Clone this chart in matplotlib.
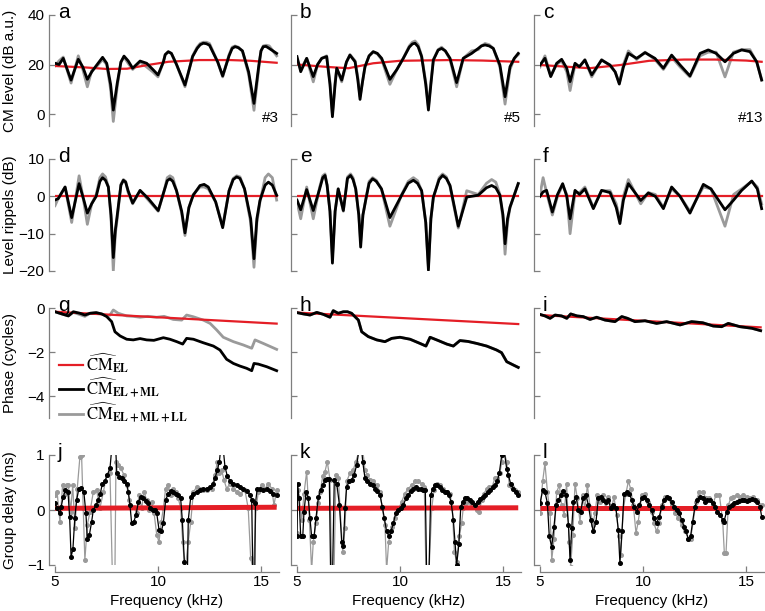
import numpy as np
import matplotlib.pyplot as plt

plt.rcParams['font.family'] = ['Liberation Sans', 'DejaVu Sans']
plt.rcParams['mathtext.fontset'] = 'stix'

# ---------------- data ----------------
# row 1: CM level (dB a.u.)
freq_a = [5.0, 5.2, 5.4, 5.78, 6.13, 6.35, 6.57, 6.78, 7.0, 7.31, 7.51, 7.7, 7.83, 8.02, 8.2, 8.35, 8.55, 8.77, 9.13,
          9.45, 9.75, 10.0, 10.26, 10.35, 10.5, 10.65, 10.9, 11.31, 11.68, 11.9, 12.05, 12.2, 12.35, 12.5, 12.9,
          13.14, 13.45, 13.6, 13.74, 13.9, 14.1, 14.4, 14.66, 14.9, 15.0, 15.11, 15.25, 15.4, 15.76]
lvl_black_a = [20.5, 20.0, 22.5, 13.7, 22.1, 19.0, 14.0, 17.0, 19.5, 22.9, 20.5, 12.0, 1.6, 12.4, 21.0, 23.4, 21.5,
               18.5, 21.4, 20.5, 18.0, 15.8, 21.0, 24.0, 25.2, 24.5, 20.0, 11.7, 23.2, 26.5, 28.0, 28.6, 28.4, 27.8,
               21.0, 15.4, 23.5, 26.5, 27.2, 26.8, 25.5, 17.0, 4.3, 20.0, 25.5, 27.2, 27.3, 26.5, 24.5]
lvl_gray_a = [19.5, 21.5, 23.0, 12.5, 23.5, 18.0, 11.0, 17.5, 19.0, 22.0, 20.0, 10.0, -3.0, 11.0, 21.0, 23.0, 20.5,
              18.0, 21.0, 19.0, 17.0, 15.0, 21.0, 24.0, 25.0, 24.5, 20.0, 11.0, 23.5, 27.0, 28.5, 29.0, 29.0, 28.5,
              21.0, 15.0, 24.0, 27.0, 27.5, 27.0, 25.5, 16.0, 1.5, 19.0, 25.5, 27.5, 27.8, 27.5, 23.5]
red_freq_a = [5.0, 6.5, 7.5, 8.5, 9.5, 10.5, 12.0, 13.5, 14.5, 15.76]
red_a = [19.4, 18.8, 18.2, 18.3, 19.8, 21.1, 21.8, 21.8, 21.5, 20.7]

freq_b = [5.0, 5.18, 5.47, 5.79, 6.0, 6.2, 6.44, 6.6, 6.72, 6.85, 6.93, 7.17, 7.4, 7.57, 7.82, 7.95, 8.06, 8.18,
          8.3, 8.5, 8.7, 8.9, 9.11, 9.51, 9.85, 10.16, 10.45, 10.6, 10.73, 10.88, 11.05, 11.25, 11.38, 11.5, 11.62,
          11.85, 12.02, 12.2, 12.43, 12.75, 13.07, 13.48, 13.8, 13.95, 14.13, 14.33, 14.53, 14.85, 15.1, 15.34,
          15.55, 15.74]
lvl_black_b = [23.2, 17.1, 22.5, 15.1, 20.0, 22.5, 23.2, 12.0, -1.1, 12.0, 18.5, 13.7, 21.0, 23.8, 21.1, 14.0, 5.9,
               13.0, 19.1, 23.5, 25.2, 24.5, 22.5, 14.0, 18.0, 22.5, 27.0, 28.3, 28.6, 27.2, 23.2, 12.0, 1.6, 12.0,
               21.8, 25.8, 26.5, 25.5, 22.5, 12.7, 22.5, 24.5, 26.5, 27.5, 27.9, 27.5, 26.5, 19.8, 7.0, 19.1, 22.5,
               24.5]
lvl_gray_b = [22.0, 18.0, 22.5, 13.0, 20.0, 22.5, 23.5, 13.0, 0.0, 13.0, 18.5, 13.0, 21.0, 24.0, 21.5, 15.0, 7.0,
              13.0, 19.0, 23.5, 25.0, 24.3, 22.0, 12.0, 18.0, 22.5, 27.5, 29.0, 29.5, 28.0, 23.5, 13.0, 3.0, 13.0,
              22.0, 26.0, 27.0, 25.5, 22.0, 11.0, 22.5, 25.5, 26.0, 27.5, 28.5, 28.0, 26.5, 19.0, 4.0, 18.0, 22.5,
              24.0]
red_freq_b = [5.0, 6.5, 7.5, 8.7, 10.0, 12.4, 14.0, 15.74]
red_b = [20.0, 19.0, 18.5, 20.5, 21.5, 21.8, 21.6, 21.1]

freq_c = [5.0, 5.24, 5.52, 5.81, 6.05, 6.3, 6.46, 6.7, 6.91, 7.18, 7.51, 7.99, 8.4, 8.65, 8.85, 9.05, 9.29, 9.69,
          10.1, 10.58, 10.99, 11.39, 11.8, 12.28, 12.77, 13.17, 13.55, 13.98, 14.39, 14.79, 15.19, 15.52, 15.76]
lvl_black_c = [19.8, 22.5, 15.1, 20.5, 22.1, 18.5, 13.1, 20.5, 19.1, 21.8, 15.8, 21.8, 19.8, 17.0, 12.1, 19.0, 24.5,
               22.5, 24.8, 22.5, 18.5, 23.8, 19.8, 15.4, 24.5, 25.9, 24.5, 21.1, 24.5, 25.9, 25.2, 21.1, 13.7]
lvl_gray_c = [19.0, 23.5, 15.5, 20.0, 21.5, 17.0, 9.5, 20.0, 19.0, 22.0, 15.0, 22.0, 19.5, 17.0, 12.5, 20.0, 25.5,
              22.0, 25.0, 22.0, 18.0, 23.0, 19.0, 15.0, 23.5, 25.0, 25.0, 15.0, 25.0, 26.0, 26.0, 21.0, 14.0]
red_freq_c = [5.0, 6.5, 7.4, 8.9, 10.3, 12.0, 13.5, 15.0, 15.76]
red_c = [19.8, 19.0, 18.5, 19.8, 21.5, 22.0, 22.0, 21.6, 21.1]

# row 2: level ripples (dB)
freq_d = [5.0, 5.16, 5.49, 5.81, 6.17, 6.4, 6.57, 6.78, 7.0, 7.18, 7.31, 7.45, 7.59, 7.72, 7.83, 7.93, 8.02, 8.2,
          8.32, 8.43, 8.55, 8.77, 9.13, 9.53, 10.01, 10.3, 10.45, 10.58, 10.72, 10.9, 11.15, 11.31, 11.5, 11.71,
          12.04, 12.24, 12.44, 12.8, 13.14, 13.45, 13.65, 13.82, 13.98, 14.2, 14.5, 14.66, 14.8, 14.95, 15.2,
          15.36, 15.55, 15.76]
rip_black_d = [-1.0, -0.6, 2.5, -5.7, 3.4, -1.0, -4.5, -2.0, 0.0, 4.0, 5.0, 4.3, 2.5, -5.0, -16.4, -9.0, -5.1, 3.0,
               4.3, 3.8, 1.5, -1.8, 1.6, -0.6, -3.8, 1.5, 4.2, 4.7, 4.0, 1.5, -4.0, -9.8, -3.0, 0.3, 2.9, 3.2, 2.5,
               -1.5, -8.4, 1.5, 4.5, 5.2, 4.8, 2.0, -6.0, -16.7, -6.0, -1.1, 3.0, 3.8, 3.0, 0.3]
rip_gray_d = [-2.5, -0.5, 2.5, -7.0, 5.5, -1.5, -7.5, -2.0, 0.5, 5.0, 6.0, 5.2, 2.5, -6.0, -20.0, -10.0, -6.0, 3.2,
              4.5, 4.0, 1.0, -2.0, 1.5, -1.0, -4.0, 1.5, 5.0, 5.5, 5.0, 1.5, -4.5, -10.5, -3.0, 0.5, 2.5, 2.5, 2.0,
              -1.5, -8.0, 1.5, 4.8, 5.5, 5.2, 2.0, -7.0, -19.0, -7.0, -1.5, 5.0, 6.0, 5.0, -1.0]

freq_e = [5.0, 5.18, 5.47, 5.79, 6.1, 6.25, 6.36, 6.46, 6.6, 6.72, 6.85, 7.0, 7.25, 7.45, 7.6, 7.72, 7.85, 8.0,
          8.09, 8.2, 8.35, 8.5, 8.67, 8.85, 9.1, 9.51, 10.08, 10.4, 10.65, 10.85, 11.05, 11.25, 11.38, 11.5, 11.62,
          11.9, 12.07, 12.25, 12.43, 12.83, 13.24, 13.8, 14.2, 14.45, 14.65, 14.85, 15.0, 15.1, 15.22, 15.34, 15.74]
rip_black_e = [-1.0, -3.6, 1.8, -3.8, 2.0, 5.0, 5.6, 3.0, -4.0, -17.9, -4.0, 2.0, -3.8, 4.8, 5.6, 4.5, 2.0, -5.0,
               -13.6, -5.0, -0.6, 3.5, 4.7, 4.0, 2.0, -5.7, 0.3, 3.5, 4.3, 3.5, 1.5, -7.0, -19.8, -6.0, -0.2, 4.5,
               5.6, 4.8, 2.9, -8.0, -0.2, 0.3, 2.3, 2.9, 2.3, 0.3, -5.0, -12.7, -6.0, -2.9, 3.4]
rip_gray_e = [-1.5, -6.0, 2.5, -6.0, 2.5, 5.5, 6.0, 3.0, -4.0, -16.0, -4.0, 2.0, -4.0, 5.2, 6.0, 5.0, 2.0, -5.0,
              -12.0, -5.0, -0.5, 4.0, 5.0, 4.3, 2.0, -8.0, 0.5, 4.0, 5.0, 4.2, 1.5, -7.0, -19.0, -6.0, -0.5, 5.0,
              6.0, 5.2, 2.5, -8.5, 1.5, 0.5, 3.5, 4.5, 3.8, 0.5, -6.0, -15.5, -7.0, -3.0, 3.5]

freq_f = [5.0, 5.15, 5.32, 5.6, 5.85, 6.1, 6.3, 6.46, 6.7, 6.92, 7.18, 7.59, 7.99, 8.4, 8.7, 8.88, 9.05, 9.29, 9.89,
          10.26, 10.6, 10.99, 11.39, 11.8, 12.28, 12.93, 13.3, 13.98, 14.4, 14.79, 15.28, 15.55, 15.76]
rip_black_f = [0.0, 1.2, 1.6, -4.2, 0.5, 3.4, 0.0, -6.0, 1.6, 0.5, 2.0, -3.3, 1.6, 1.0, -3.0, -7.3, -1.0, 3.4, -1.1,
               0.9, 0.0, -3.3, 2.5, 0.0, -4.5, 3.2, 2.0, -3.6, -1.0, 1.6, 4.1, 2.0, -3.3]
rip_gray_f = [0.5, 5.0, 1.0, -5.0, 0.0, 3.0, 0.5, -10.0, 1.0, 1.0, 2.5, -3.0, 1.5, 1.5, -2.0, -6.5, 0.0, 4.5, -2.0,
              1.0, 0.5, -3.0, 2.0, 0.0, -4.0, 2.5, 2.0, -8.0, 0.5, 2.0, 4.0, 2.5, -2.0]

# row 3: phase (cycles)
freq_g = [5.0, 5.33, 5.65, 5.89, 6.21, 6.45, 6.7, 7.0, 7.27, 7.51, 7.75, 7.91, 8.16, 8.48, 8.8, 9.13, 9.45, 9.8,
          10.26, 10.58, 10.91, 11.2, 11.39, 11.72, 12.2, 12.69, 13.01, 13.33, 13.66, 13.98, 14.3, 14.55, 14.66,
          14.87, 15.28, 15.76]
ph_black_g = [-0.17, -0.27, -0.36, -0.17, -0.24, -0.32, -0.24, -0.21, -0.27, -0.39, -0.62, -1.08, -1.27, -1.42,
              -1.45, -1.39, -1.45, -1.47, -1.35, -1.42, -1.53, -1.64, -1.38, -1.42, -1.58, -1.73, -1.91, -2.33,
              -2.52, -2.64, -2.74, -2.85, -2.52, -2.55, -2.67, -2.85]
freq_g_gray = [5.0, 5.33, 5.65, 5.89, 6.21, 6.45, 6.7, 7.0, 7.27, 7.51, 7.67, 7.83, 8.07, 8.48, 8.8, 9.13, 9.5,
               9.94, 10.3, 10.74, 11.15, 11.39, 11.72, 12.2, 12.53, 12.85, 13.17, 13.66, 14.14, 14.55, 14.71, 15.11,
               15.76]
ph_gray_g = [-0.17, -0.27, -0.36, -0.2, -0.3, -0.38, -0.24, -0.22, -0.27, -0.36, -0.32, -0.09, -0.24, -0.36, -0.38,
             -0.42, -0.38, -0.42, -0.38, -0.52, -0.55, -0.32, -0.4, -0.55, -0.7, -1.0, -1.33, -1.53, -1.68, -1.83,
             -1.45, -1.61, -1.88]
red_freq_g = [5.0, 15.76]
red_g = [-0.17, -0.71]

freq_h = [5.0, 5.31, 5.63, 5.96, 6.28, 6.6, 6.76, 7.0, 7.25, 7.45, 7.65, 7.98, 8.14, 8.46, 8.87, 9.27, 9.6, 10.0,
          10.49, 10.97, 11.26, 11.46, 11.86, 12.27, 12.59, 12.91, 13.3, 13.72, 14.21, 14.69, 14.93, 15.18, 15.5,
          15.74]
ph_black_h = [-0.21, -0.27, -0.32, -0.2, -0.29, -0.42, -0.12, -0.24, -0.17, -0.17, -0.24, -0.55, -1.08, -1.3, -1.45,
              -1.53, -1.38, -1.33, -1.42, -1.61, -1.73, -1.33, -1.48, -1.64, -1.73, -1.48, -1.52, -1.61, -1.73, -1.91,
              -2.03, -2.44, -2.59, -2.7]
ph_gray_h = [-0.21, -0.27, -0.32, -0.2, -0.29, -0.42, -0.12, -0.24, -0.17, -0.17, -0.24, -0.55, -1.08, -1.3, -1.45,
             -1.53, -1.38, -1.33, -1.42, -1.61, -1.73, -1.33, -1.48, -1.64, -1.73, -1.48, -1.52, -1.61, -1.73, -1.91,
             -2.03, -2.44, -2.59, -2.7]
red_freq_h = [5.0, 15.74]
red_h = [-0.21, -0.73]

freq_i = [5.0, 5.24, 5.49, 5.73, 6.05, 6.3, 6.49, 6.8, 7.1, 7.43, 7.75, 8.16, 8.64, 8.97, 9.25, 9.61, 10.1, 10.66,
          11.15, 11.8, 12.36, 12.9, 13.41, 13.82, 14.14, 14.71, 15.28, 15.71]
ph_black_i = [-0.29, -0.36, -0.47, -0.32, -0.36, -0.47, -0.27, -0.36, -0.39, -0.52, -0.42, -0.55, -0.62, -0.39,
              -0.47, -0.62, -0.58, -0.7, -0.62, -0.77, -0.62, -0.67, -0.82, -0.85, -0.7, -0.85, -0.92, -1.03]
ph_gray_i = [-0.29, -0.36, -0.47, -0.32, -0.36, -0.47, -0.27, -0.36, -0.39, -0.52, -0.42, -0.55, -0.62, -0.39,
             -0.47, -0.62, -0.58, -0.7, -0.62, -0.77, -0.62, -0.67, -0.82, -0.85, -0.7, -0.85, -0.92, -1.03]
red_freq_i = [5.0, 15.71]
red_i = [-0.32, -0.88]

# row 4: group delay (ms)
freq_j = [5.0, 5.1, 5.22, 5.3, 5.4, 5.5, 5.63, 5.71, 5.78, 5.87, 5.96, 6.05, 6.16, 6.28, 6.4, 6.5, 6.57, 6.67, 6.78,
          6.86, 6.99, 7.1, 7.2, 7.3, 7.43, 7.54, 7.67, 7.75, 7.95, 8.0, 8.12, 8.24, 8.35, 8.48, 8.56, 8.64, 8.72,
          8.83, 8.93, 9.05, 9.16, 9.29, 9.42, 9.53, 9.61, 9.74, 9.85, 9.94, 10.05, 10.16, 10.26, 10.37, 10.5, 10.61,
          10.74, 10.86, 10.99, 11.1, 11.18, 11.28, 11.33, 11.43, 11.47, 11.59, 11.72, 11.88, 12.04, 12.2, 12.36,
          12.52, 12.69, 12.77, 12.88, 12.98, 13.04, 13.17, 13.25, 13.37, 13.5, 13.66, 13.82, 13.98, 14.14, 14.3,
          14.47, 14.55, 14.6, 14.7, 14.73, 14.82, 14.95, 15.11, 15.28, 15.44, 15.57, 15.76]
gd_black_j = [0.12, 0.03, -0.06, 0.06, 0.24, 0.36, 0.33, -0.12, -0.85, -0.71, -0.15, 0.18, 0.39, 0.4, 0.33, -0.06,
              -0.52, -0.45, -0.21, 0.0, 0.09, 0.18, 0.3, 0.48, 0.53, 0.64, 0.76, 1.1, 1.1, 0.67, 0.6, 0.59, 0.53,
              0.48, 0.33, 0.09, -0.24, -0.21, -0.09, 0.15, 0.24, 0.21, 0.16, 0.12, 0.03, 0.0, 0.0, -0.06, -0.36,
              -0.39, -0.24, 0.18, 0.3, 0.35, 0.33, 0.3, 0.28, 0.21, -0.18, -0.94, -1.1, -1.1, -0.18, 0.24, 0.3,
              0.33, 0.36, 0.38, 0.39, 0.42, 0.48, 0.58, 0.73, 0.88, 1.1, 1.1, 0.79, 0.61, 0.53, 0.48, 0.45, 0.42,
              0.39, 0.35, 0.27, 0.18, -1.1, -1.1, 0.12, 0.39, 0.39, 0.36, 0.39, 0.35, 0.3, 0.27]
freq_j_gray = [5.0, 5.1, 5.24, 5.37, 5.47, 5.57, 5.65, 5.76, 5.86, 5.97, 6.08, 6.21, 6.29, 6.37, 6.45, 6.57, 6.7,
               6.86, 7.02, 7.18, 7.35, 7.51, 7.67, 7.78, 7.91, 7.96, 8.07, 8.19, 8.35, 8.48, 8.61, 8.72, 8.83, 8.96,
               9.08, 9.21, 9.32, 9.45, 9.58, 9.69, 9.81, 9.94, 10.05, 10.16, 10.26, 10.37, 10.5, 10.61, 10.74, 10.86,
               10.99, 11.1, 11.2, 11.31, 11.47, 11.59, 11.72, 11.88, 12.04, 12.2, 12.36, 12.6, 12.77, 12.88, 12.98,
               13.09, 13.2, 13.33, 13.5, 13.66, 13.85, 14.0, 14.22, 14.38, 14.5, 14.63, 14.76, 14.87, 15.03, 15.2,
               15.36, 15.52, 15.63, 15.76]
gd_gray_j = [0.27, 0.33, -0.21, 0.45, 0.3, 0.45, 0.45, -0.03, 0.45, -0.33, 0.39, 0.97, 1.0, 0.03, -0.91, -0.27,
             -0.03, 0.33, 0.36, 0.03, 0.33, 0.64, 0.67, -1.1, -1.1, 0.88, 0.82, 0.76, 0.64, 0.45, 0.18, 0.06, 0.06,
             -0.06, 0.27, 0.03, 0.33, 0.18, 0.0, 0.15, -0.06, -0.45, -0.58, -0.21, 0.03, 0.39, 0.45, 0.27, 0.39,
             0.33, 0.21, 0.03, -0.58, -1.1, -0.58, -0.21, 0.33, 0.42, 0.39, 0.36, 0.36, 0.39, 0.64, 0.88, 0.67,
             0.73, 0.55, 0.39, 0.48, 0.39, 0.33, 0.3, 0.36, 0.03, -0.88, -1.1, 0.03, 0.33, 0.45, 0.39, 0.48, 0.39,
             0.09, 0.36]
red_freq_j = [5.0, 15.76]
red_j = [0.03, 0.05]

freq_k = [5.0, 5.03, 5.1, 5.18, 5.28, 5.34, 5.44, 5.55, 5.63, 5.71, 5.83, 5.92, 6.04, 6.15, 6.25, 6.36, 6.47, 6.57,
          6.63, 6.73, 6.81, 6.93, 7.06, 7.17, 7.25, 7.33, 7.41, 7.54, 7.65, 7.77, 7.9, 8.01, 8.14, 8.19, 8.3, 8.41,
          8.54, 8.67, 8.79, 8.9, 9.03, 9.14, 9.24, 9.35, 9.47, 9.56, 9.68, 9.79, 9.92, 10.03, 10.16, 10.29, 10.4,
          10.52, 10.65, 10.78, 10.89, 11.0, 11.13, 11.23, 11.29, 11.41, 11.49, 11.59, 11.7, 11.81, 11.94, 12.06,
          12.17, 12.27, 12.38, 12.48, 12.59, 12.67, 12.75, 12.86, 12.95, 13.04, 13.16, 13.27, 13.4, 13.51, 13.64,
          13.77, 13.88, 14.01, 14.13, 14.26, 14.37, 14.5, 14.61, 14.72, 14.82, 14.94, 15.05, 15.18, 15.26, 15.37,
          15.5, 15.63, 15.74]
gd_black_k = [-0.47, 0.48, 0.21, -0.48, -0.48, -0.03, 0.33, 0.21, -0.15, -0.48, -0.48, -0.15, 0.24, 0.36, 0.45,
              0.55, 0.56, 0.56, -1.1, -1.1, 0.55, 0.48, 0.09, -0.58, -0.65, 0.03, 0.42, 0.52, 0.55, 0.64, 0.82,
              1.1, 1.1, 0.88, 0.58, 0.53, 0.48, 0.45, 0.39, 0.35, 0.27, 0.06, -0.15, -0.39, -0.48, -0.39, -0.24,
              -0.06, 0.0, 0.04, 0.09, 0.21, 0.28, 0.35, 0.39, 0.41, 0.39, 0.39, 0.36, 0.36, -1.1, -1.1, 0.27, 0.39,
              0.45, 0.45, 0.41, 0.36, 0.33, 0.33, 0.27, 0.15, -0.18, -0.58, -1.0, -0.61, 0.06, 0.15, 0.21, 0.21,
              0.18, 0.14, 0.1, 0.15, 0.2, 0.24, 0.28, 0.33, 0.36, 0.41, 0.45, 0.52, 0.67, 1.0, 1.1, 0.75, 0.64,
              0.48, 0.39, 0.33, 0.27]
freq_k_gray = [5.0, 5.03, 5.11, 5.23, 5.34, 5.47, 5.6, 5.71, 5.79, 5.92, 6.04, 6.12, 6.25, 6.36, 6.47, 6.6, 6.68,
               6.8, 6.89, 7.01, 7.09, 7.22, 7.33, 7.41, 7.57, 7.73, 7.86, 8.03, 8.19, 8.3, 8.41, 8.54, 8.71, 8.87,
               9.03, 9.14, 9.27, 9.35, 9.45, 9.6, 9.76, 9.92, 10.08, 10.24, 10.4, 10.57, 10.73, 10.89, 11.05, 11.18,
               11.26, 11.41, 11.54, 11.65, 11.78, 11.94, 12.1, 12.27, 12.43, 12.54, 12.64, 12.75, 12.88, 12.99,
               13.07, 13.19, 13.32, 13.45, 13.59, 13.72, 13.85, 13.96, 14.08, 14.21, 14.34, 14.47, 14.61, 14.72,
               14.85, 14.94, 15.02, 15.18, 15.31, 15.42, 15.58, 15.74]
gd_gray_k = [-0.42, 0.36, 0.21, -0.18, 0.3, 0.7, -0.18, -1.1, -0.58, -0.24, 0.12, 0.33, 0.61, 0.7, 0.88, 0.55,
             -1.1, -1.1, 0.64, 0.58, 0.03, -0.76, -0.33, 0.52, 0.67, 0.73, 0.88, 1.1, 1.1, 0.73, 0.64, 0.55, 0.52,
             0.45, 0.33, 0.03, -0.27, -1.1, -0.58, -0.3, -0.15, 0.0, 0.15, 0.3, 0.39, 0.45, 0.52, 0.52, 0.48, 0.42,
             -1.1, -1.1, 0.03, 0.36, 0.48, 0.45, 0.39, 0.33, 0.3, 0.03, -0.76, -0.94, -0.48, -0.24, 0.03, 0.12,
             0.18, 0.12, 0.06, 0.0, -0.03, 0.18, 0.3, 0.39, 0.42, 0.42, 0.58, 0.58, 0.67, 0.88, 1.1, 0.88, 0.45,
             0.42, 0.36, 0.33]
red_freq_k = [5.0, 15.74]
red_k = [0.03, 0.04]

freq_l = [5.0, 5.13, 5.24, 5.36, 5.45, 5.57, 5.68, 5.78, 5.89, 6.0, 6.13, 6.26, 6.38, 6.46, 6.54, 6.62, 6.75, 6.86,
          6.97, 7.1, 7.23, 7.35, 7.46, 7.59, 7.72, 7.83, 7.94, 8.07, 8.2, 8.32, 8.43, 8.56, 8.69, 8.8, 8.88, 8.98,
          9.08, 9.21, 9.34, 9.45, 9.56, 9.69, 9.82, 9.94, 10.05, 10.18, 10.31, 10.42, 10.53, 10.66, 10.79, 10.91,
          11.02, 11.15, 11.28, 11.39, 11.5, 11.63, 11.76, 11.88, 11.99, 12.09, 12.2, 12.31, 12.41, 12.52, 12.64,
          12.77, 12.9, 13.01, 13.12, 13.25, 13.38, 13.5, 13.61, 13.74, 13.87, 13.93, 14.06, 14.19, 14.3, 14.42,
          14.55, 14.68, 14.79, 14.9, 15.03, 15.16, 15.29, 15.44, 15.55, 15.68, 15.76]
gd_black_l = [0.12, 0.36, 0.33, 0.12, -0.48, -0.67, -0.3, 0.09, 0.18, 0.27, 0.35, 0.27, -0.27, -0.91, -0.33, 0.15,
              0.24, 0.0, -0.03, 0.21, 0.27, 0.09, -0.18, -0.39, -0.21, 0.21, 0.24, 0.18, 0.15, 0.18, 0.03, 0.09,
              0.03, -0.36, -0.97, -0.39, 0.3, 0.33, 0.3, 0.18, 0.06, -0.03, 0.09, 0.21, 0.24, 0.18, 0.09, 0.0,
              -0.15, -0.24, -0.12, 0.06, 0.18, 0.24, 0.21, 0.15, 0.06, 0.0, -0.06, -0.18, -0.3, -0.39, -0.52, -0.48,
              -0.21, 0.06, 0.18, 0.24, 0.22, 0.15, 0.18, 0.18, 0.12, 0.06, -0.03, -0.09, -0.18, -0.21, -0.03, 0.06,
              0.09, 0.12, 0.15, 0.16, 0.18, 0.18, 0.16, 0.18, 0.2, 0.18, 0.14, 0.06, -0.12]
freq_l_gray = [5.0, 5.13, 5.24, 5.36, 5.49, 5.57, 5.68, 5.81, 5.94, 6.05, 6.17, 6.29, 6.42, 6.49, 6.59, 6.7, 6.81,
               6.94, 7.07, 7.18, 7.3, 7.43, 7.56, 7.67, 7.78, 7.91, 8.07, 8.2, 8.32, 8.48, 8.59, 8.72, 8.83, 8.92,
               9.05, 9.17, 9.29, 9.4, 9.53, 9.66, 9.77, 9.94, 10.1, 10.26, 10.42, 10.53, 10.66, 10.79, 10.91, 11.07,
               11.23, 11.39, 11.55, 11.72, 11.88, 12.04, 12.2, 12.31, 12.44, 12.57, 12.73, 12.9, 13.06, 13.22,
               13.38, 13.54, 13.71, 13.87, 13.95, 14.03, 14.14, 14.26, 14.39, 14.55, 14.71, 14.87, 15.03, 15.19,
               15.36, 15.52, 15.76]
gd_gray_l = [-0.06, 0.52, 0.85, 0.33, -0.06, -0.91, -0.52, 0.33, 0.45, 0.09, -0.09, 0.48, -0.58, -1.03, -0.45,
             0.48, 0.21, -0.21, 0.27, 0.03, 0.45, 0.06, -0.27, -0.06, 0.27, 0.15, 0.27, 0.03, 0.24, 0.03, 0.24,
             -0.09, -0.48, -0.82, 0.03, 0.3, 0.52, 0.39, 0.09, -0.42, -0.21, 0.27, 0.3, 0.15, -0.03, -0.24, -0.39,
             -0.24, 0.09, 0.24, 0.21, 0.09, -0.06, -0.15, -0.27, -0.39, -0.52, -0.52, -0.21, 0.15, 0.33, 0.33,
             0.21, 0.21, 0.09, 0.27, 0.27, -0.21, -0.79, -0.79, 0.09, 0.21, 0.24, 0.27, 0.24, 0.27, 0.24, 0.21,
             0.24, 0.18, 0.09]
red_freq_l = [5.0, 15.76]
red_l = [0.03, 0.03]

# ---------------- layout ----------------
W, H = 765, 611
fig = plt.figure(figsize=(W / 100, H / 100), dpi=100)

RED = '#e41e26'
GRAY = '#9a9a9a'
AXC = '#7f7f7f'

col_x = [55, 297, 540]
col_w = 223.5
row_y = [(15, 126.4), (159, 271), (308, 418), (455, 565)]
row_lim = [(-5, 40), (-20, 10), (-5, 0), (-1, 1)]
row_ticks = [[0, 20, 40], [-20, -10, 0, 10], [-4, -2, 0], [-1, 0, 1]]
row_label = ['CM level (dB a.u.)', 'Level rippels (dB)', 'Phase (cycles)', 'Group delay (ms)']
letters = [['a', 'b', 'c'], ['d', 'e', 'f'], ['g', 'h', 'i'], ['j', 'k', 'l']]

panels = [
    [(freq_a, lvl_black_a, freq_a, lvl_gray_a, red_freq_a, red_a),
     (freq_b, lvl_black_b, freq_b, lvl_gray_b, red_freq_b, red_b),
     (freq_c, lvl_black_c, freq_c, lvl_gray_c, red_freq_c, red_c)],
    [(freq_d, rip_black_d, freq_d, rip_gray_d, [5.0, 15.76], [0, 0]),
     (freq_e, rip_black_e, freq_e, rip_gray_e, [5.0, 15.74], [0, 0]),
     (freq_f, rip_black_f, freq_f, rip_gray_f, [5.0, 15.76], [0, 0])],
    [(freq_g, ph_black_g, freq_g_gray, ph_gray_g, red_freq_g, red_g),
     (freq_h, ph_black_h, freq_h, ph_gray_h, red_freq_h, red_h),
     (freq_i, ph_black_i, freq_i, ph_gray_i, red_freq_i, red_i)],
    [(freq_j, gd_black_j, freq_j_gray, gd_gray_j, red_freq_j, red_j),
     (freq_k, gd_black_k, freq_k_gray, gd_gray_k, red_freq_k, red_k),
     (freq_l, gd_black_l, freq_l_gray, gd_gray_l, red_freq_l, red_l)],
]

for r in range(4):
    y0, y1 = row_y[r]
    for c in range(3):
        x0 = col_x[c]
        ax = fig.add_axes([x0 / W, 1 - y1 / H, col_w / W, (y1 - y0) / H])
        fb, vb, fg, vg, fr, vr = panels[r][c]
        if r < 3:
            ax.plot(fg, vg, color=GRAY, lw=2.0, zorder=1, solid_joinstyle='round')
            ax.plot(fr, vr, color=RED, lw=1.6, zorder=2)
            ax.plot(fb, vb, color='k', lw=2.0, zorder=3, solid_joinstyle='round')
        else:
            ax.plot(fg, vg, color=GRAY, lw=0.9, marker='o', ms=2.6, zorder=1)
            ax.plot(fr, vr, color=RED, lw=3.6, zorder=2, solid_capstyle='butt')
            ax.plot(fb, vb, color='k', lw=0.9, marker='o', ms=2.6, zorder=3)

        ax.set_xlim(5, 15.85)
        ax.set_ylim(*row_lim[r])
        ax.set_yticks(row_ticks[r])
        for s in ['top', 'right']:
            ax.spines[s].set_visible(False)
        ax.spines['left'].set_position(('outward', 4.5))
        ax.spines['left'].set_color(AXC)
        ax.spines['left'].set_linewidth(0.9)
        ax.tick_params(axis='both', direction='in', length=4, width=0.9, color=AXC,
                       labelsize=11, labelcolor='k', pad=3)
        if c > 0:
            ax.set_yticklabels([])
        if r < 3:
            ax.spines['bottom'].set_visible(False)
            ax.set_xticks([])
        else:
            ax.spines['bottom'].set_position(('outward', 5))
            ax.spines['bottom'].set_color(AXC)
            ax.spines['bottom'].set_linewidth(0.9)
            ax.set_xticks([5, 10, 15])
            ax.tick_params(axis='x', pad=2)
            ax.set_xlabel('Frequency (kHz)', fontsize=11, labelpad=4)
        ax.patch.set_alpha(0)

        ax.text(0.012, 1 - 3 / (y1 - y0), letters[r][c], transform=ax.transAxes,
                fontsize=15, va='baseline', ha='left')

        if r == 0:
            ax.text(1.0, 0.01, ['#3', '#5', '#13'][c], transform=ax.transAxes,
                    fontsize=11, ha='right', va='bottom')
        if r == 2 and c == 0:
            ax.legend(labels=[r'$\widehat{\mathrm{CM}}_{\mathbf{EL}}$',
                              r'$\widehat{\mathrm{CM}}_{\mathbf{EL+ML}}$',
                              r'$\widehat{\mathrm{CM}}_{\mathbf{EL+ML+LL}}$'],
                      handles=[ax.lines[1], ax.lines[2], ax.lines[0]],
                      loc='center left', bbox_to_anchor=(0.02, 0.27), frameon=False,
                      fontsize=12, handlelength=1.4, handletextpad=0.2, labelspacing=0.05,
                      borderpad=0, borderaxespad=0)

    fig.text(10 / W, 1 - (y0 + y1) / 2 / H, row_label[r], rotation=90, fontsize=11,
             ha='center', va='center')

fig.savefig('out.png', dpi=100)
